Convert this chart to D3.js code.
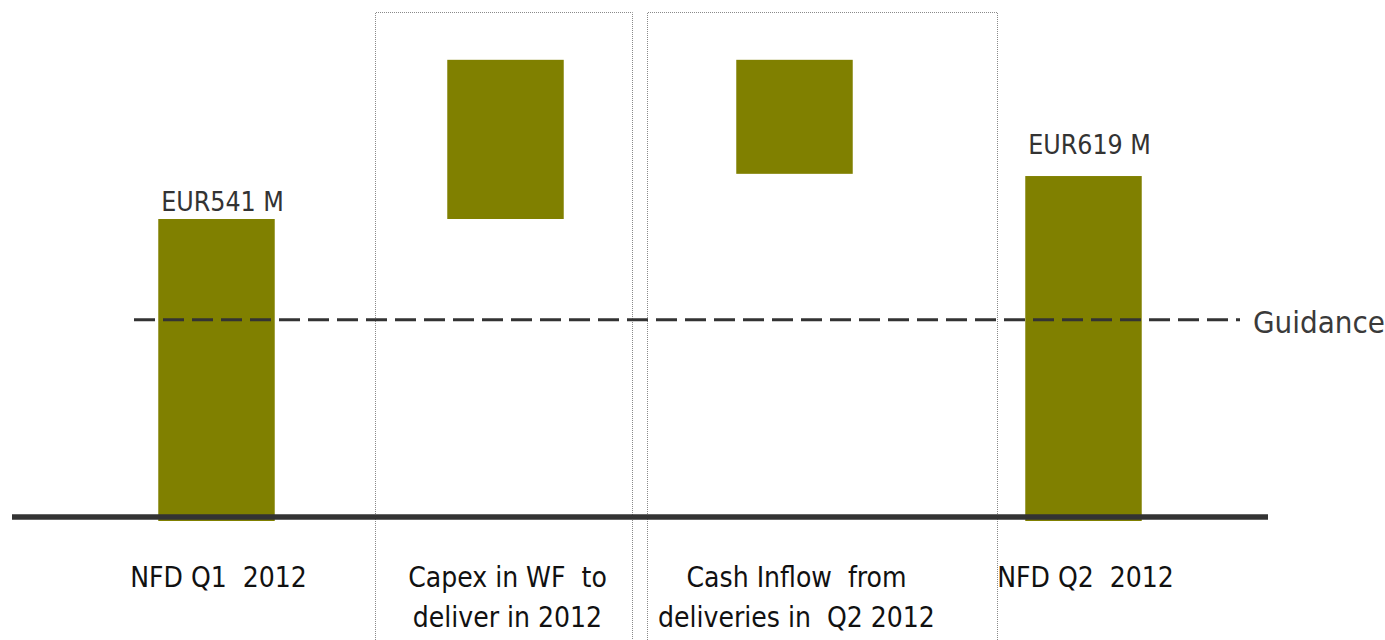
<!DOCTYPE html>
<html>
<head>
<meta charset="utf-8">
<script src="https://cdn.jsdelivr.net/npm/d3@7"></script>
<style>
  html, body { margin: 0; padding: 0; background: #fff; }
  svg { display: block; }
  text { font-family: "DejaVu Sans Condensed", "DejaVu Sans", sans-serif; white-space: pre; }
</style>
</head>
<body>
<svg id="chart" width="1385" height="640"></svg>
<script>
// Net financial debt bridge, EUR millions
const categories = [
  ["NFD Q1  2012"],
  ["Capex in WF  to", "deliver in 2012"],
  ["Cash Inflow  from", "deliveries in  Q2 2012"],
  ["NFD Q2  2012"]
];
const barLow  = [0, 541, 623, 0];
const barHigh = [541, 830, 830, 619];
const valueLabels = ["EUR541 M", "", "", "EUR619 M"];
const guidanceValue = 358;
const guidanceLabel = "Guidance";

const svg = d3.select("#chart");
const olive = "#808000";

const x = d3.scaleBand()
  .domain(d3.range(categories.length))
  .range([72, 1228])
  .paddingInner(0.597)
  .paddingOuter(0.2985);

const y = d3.scaleLinear().domain([0, 541]).range([517, 219]);

const step = x.step();
const cx = i => x(i) + x.bandwidth() / 2;

// dotted frames around the two movement columns
const frames = [
  { i: 1, left: -0.452, right: 0.438 },
  { i: 2, left: -0.509, right: 0.699 }
];
svg.append("g").selectAll("path")
  .data(frames)
  .join("path")
  .attr("d", f => {
    const l = Math.round(cx(f.i) + f.left * step) + 0.5;
    const r = Math.round(cx(f.i) + f.right * step) + 0.5;
    return `M${l},640V12.5H${r}V640`;
  })
  .attr("fill", "none")
  .attr("stroke", "#8a8a8a")
  .attr("stroke-width", 1)
  .attr("stroke-dasharray", "1,1");

// bars
svg.append("g").selectAll("rect")
  .data(categories.map((c, i) => i))
  .join("rect")
  .attr("x", i => x(i))
  .attr("width", x.bandwidth())
  .attr("y", i => y(barHigh[i]))
  .attr("height", i => (barLow[i] === 0 ? y(0) + 4 : y(barLow[i])) - y(barHigh[i]))
  .attr("fill", olive);

// guidance line
svg.append("line")
  .attr("x1", 134).attr("x2", 1240)
  .attr("y1", y(guidanceValue)).attr("y2", y(guidanceValue))
  .attr("stroke", "#333")
  .attr("stroke-width", 3)
  .attr("stroke-dasharray", "21,8");

svg.append("text")
  .attr("x", 1253)
  .attr("y", y(guidanceValue) + 13)
  .attr("font-size", 31)
  .attr("fill", "#3a3a3a")
  .text(guidanceLabel);

// baseline
svg.append("line")
  .attr("x1", 12).attr("x2", 1268)
  .attr("y1", y(0)).attr("y2", y(0))
  .attr("stroke", "#333")
  .attr("stroke-width", 5.5);

// value labels above the totals
const labelGap = [8, 0, 0, 22];
svg.append("g").selectAll("text")
  .data(categories.map((c, i) => i).filter(i => valueLabels[i]))
  .join("text")
  .attr("x", i => cx(i) + 6)
  .attr("y", i => y(barHigh[i]) - labelGap[i])
  .attr("text-anchor", "middle")
  .attr("font-size", 26.5)
  .attr("fill", "#333")
  .text(i => valueLabels[i]);

// category labels
const cat = svg.append("g").selectAll("text")
  .data(categories.map((c, i) => i))
  .join("text")
  .attr("x", i => cx(i) + 2)
  .attr("y", 587)
  .attr("text-anchor", "middle")
  .attr("font-size", 28)
  .attr("fill", "#111");
cat.selectAll("tspan")
  .data(i => categories[i].map(line => ({ i, line })))
  .join("tspan")
  .attr("x", d => cx(d.i) + 2)
  .attr("dy", (d, k) => k === 0 ? 0 : 40)
  .text(d => d.line);
</script>
</body>
</html>
